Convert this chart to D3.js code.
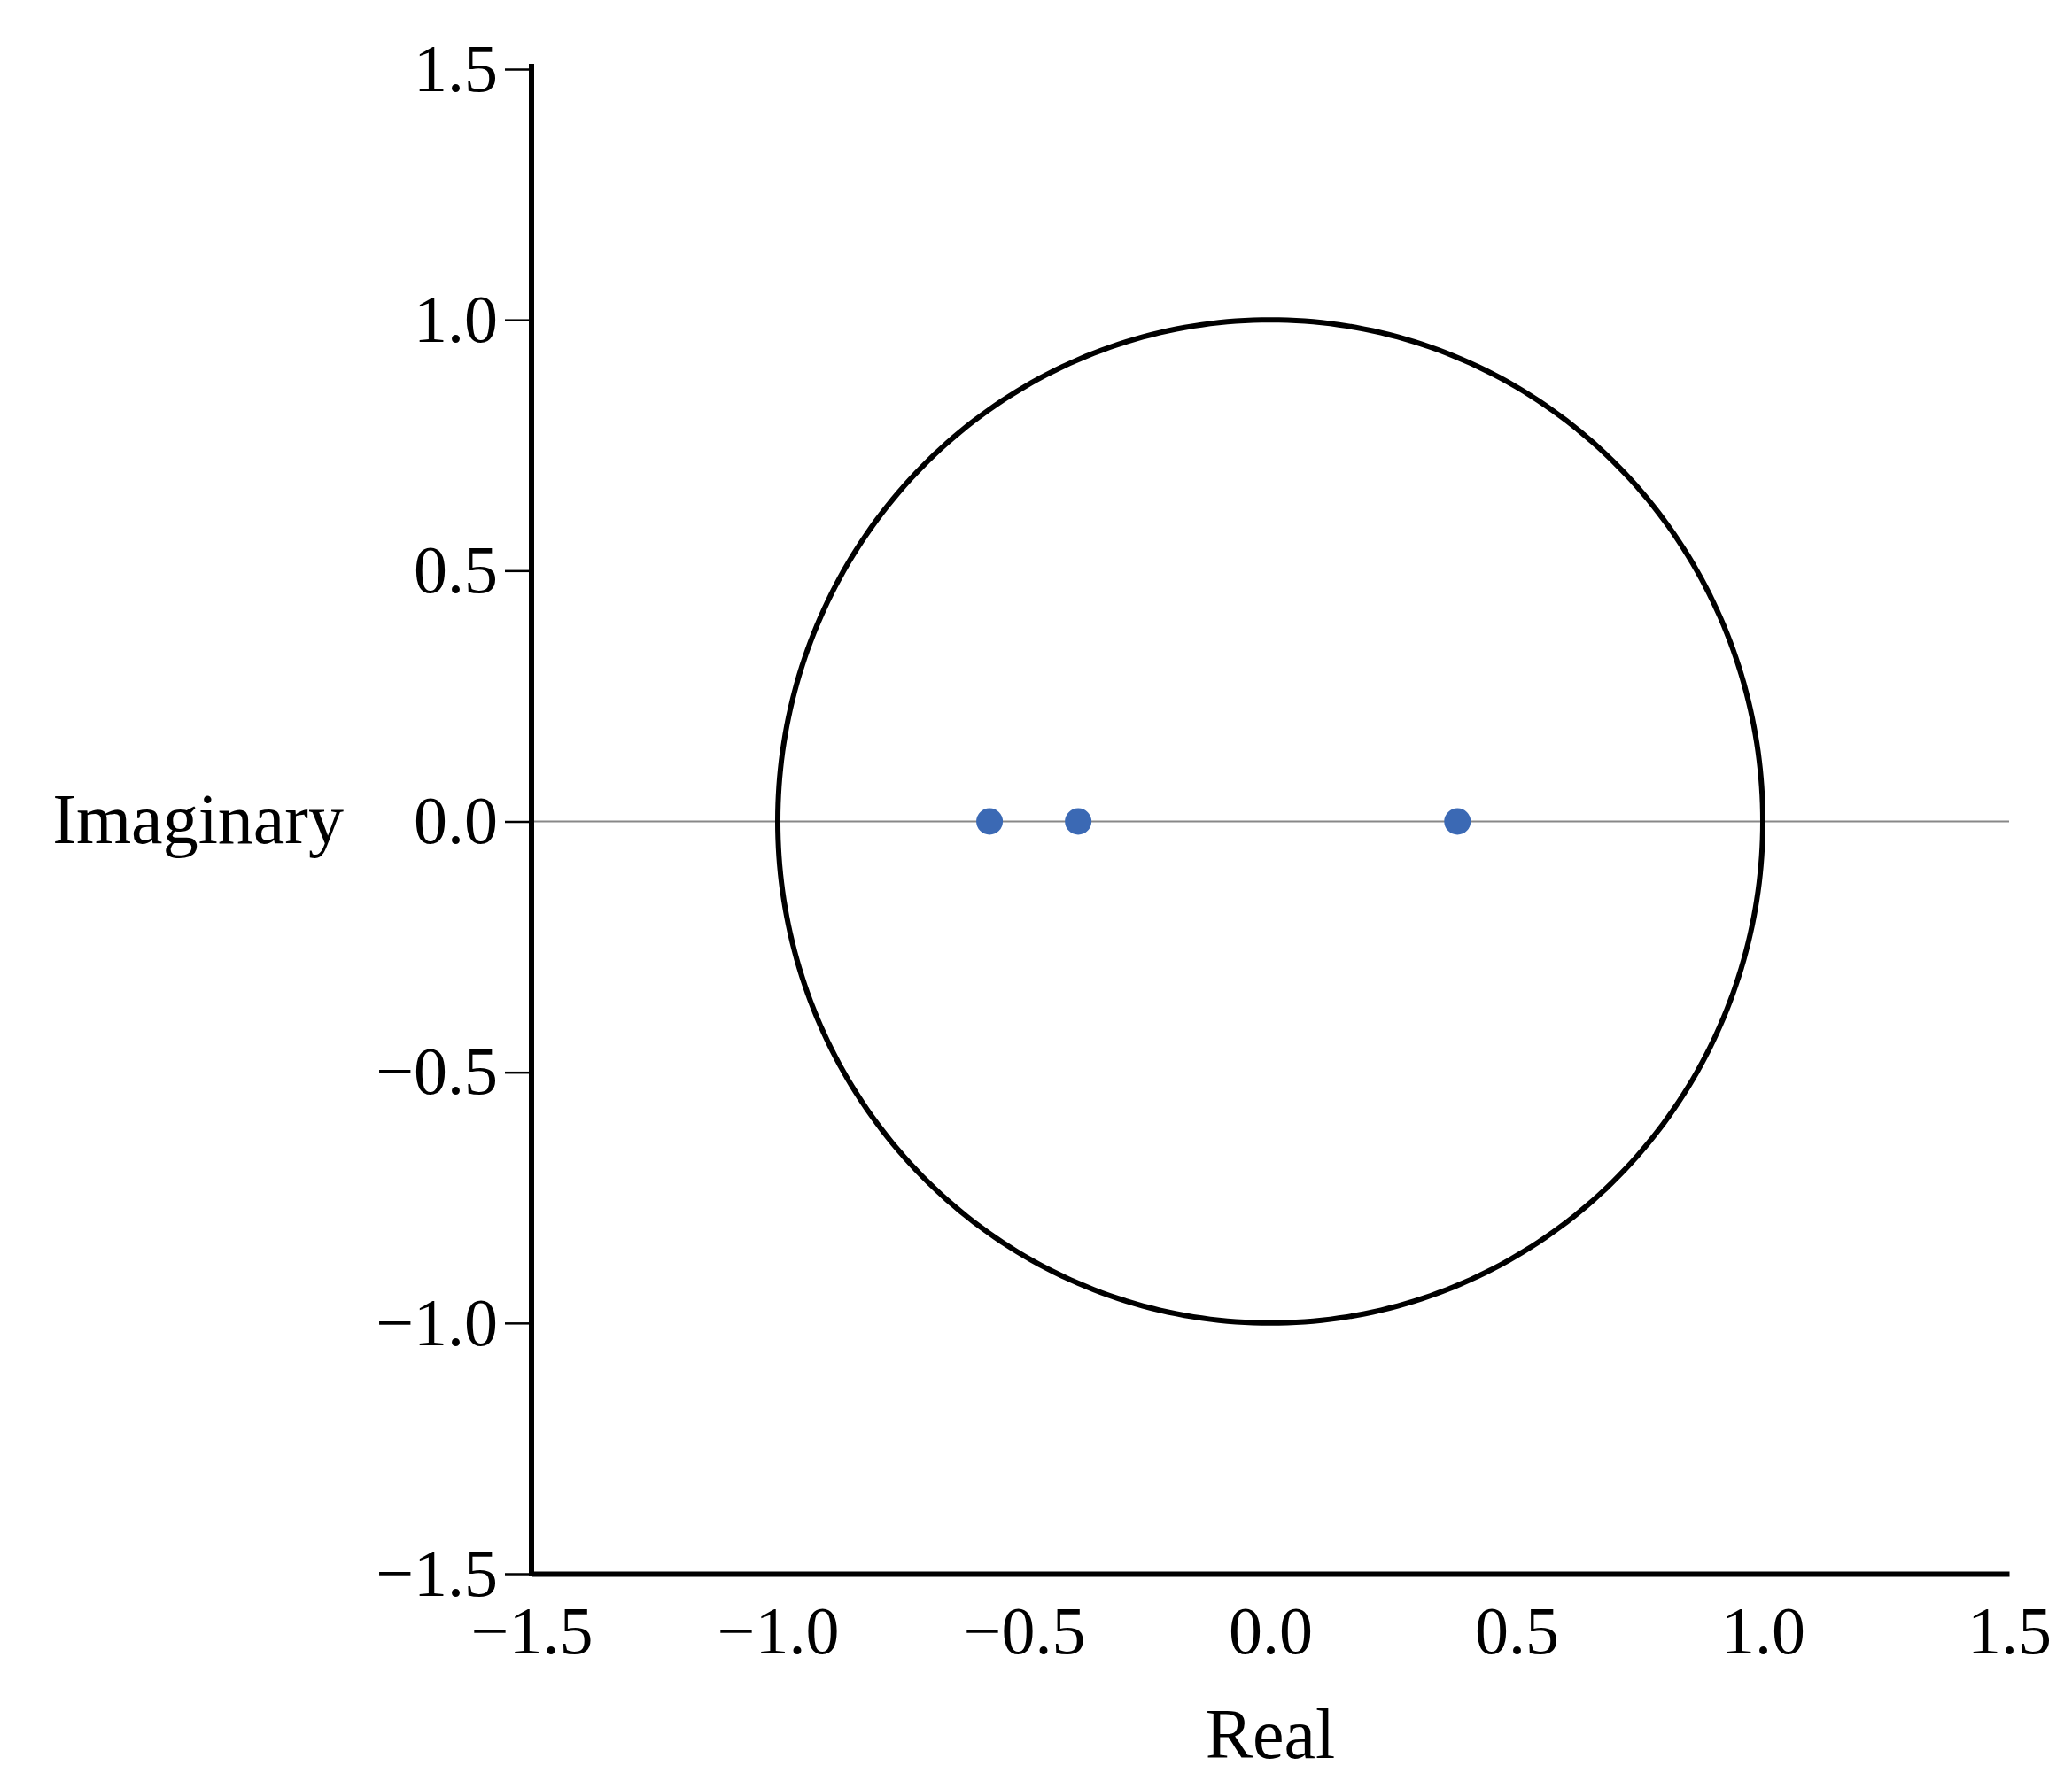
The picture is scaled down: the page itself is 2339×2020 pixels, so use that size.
<!DOCTYPE html>
<html>
<head>
<meta charset="utf-8">
<script src="https://cdn.jsdelivr.net/npm/d3@7"></script>
<style>
  body { margin: 0; background: #fff; }
  text { font-family: "Liberation Serif", "Times New Roman", serif; }
</style>
</head>
<body>
<svg id="chart" width="2339" height="2020"></svg>
<script>
const xTicks = [-1.5, -1.0, -0.5, 0.0, 0.5, 1.0, 1.5]
const yTicks = [-1.5, -1.0, -0.5, 0.0, 0.5, 1.0, 1.5]
const poleRe = [-0.57, -0.39, 0.38]
const poleIm = [0, 0, 0]

const svg = d3.select('#chart')
const x = d3.scaleLinear().domain([-1.5, 1.5]).range([600, 2268])
const y = d3.scaleLinear().domain([-1.5, 1.5]).range([1777, 78])

// zero line
svg.append('line')
  .attr('x1', x(-1.5)).attr('x2', x(1.5))
  .attr('y1', y(0)).attr('y2', y(0))
  .attr('stroke', '#888').attr('stroke-width', 2)

// unit circle
const circlePts = d3.range(0, 361).map(a => [Math.cos(a * Math.PI / 180), Math.sin(a * Math.PI / 180)])
svg.append('path')
  .attr('d', d3.line().x(d => x(d[0])).y(d => y(d[1]))(circlePts))
  .attr('fill', 'none').attr('stroke', '#000').attr('stroke-width', 6)

// y axis
const yAxis = svg.append('g').attr('transform', `translate(${x(-1.5)},0)`)
  .call(d3.axisLeft(y).tickValues(yTicks).tickFormat(d3.format('.1f')).tickSize(30).tickPadding(8))
yAxis.select('.domain').attr('stroke-width', 6).attr('d', `M0,${y(1.5) - 6}V${y(-1.5) + 3}`)
yAxis.selectAll('.tick line').attr('stroke-width', 2.5)
yAxis.selectAll('.tick text').attr('font-size', 76).attr('fill', '#000')
  .attr('font-family', '"Liberation Serif", serif')

// x axis
const xAxis = svg.append('g').attr('transform', `translate(0,${y(-1.5)})`)
  .call(d3.axisBottom(x).tickValues(xTicks).tickFormat(d3.format('.1f')).tickSize(0).tickPadding(36))
xAxis.select('.domain').attr('stroke-width', 6)
xAxis.selectAll('.tick text').attr('font-size', 76).attr('fill', '#000')
  .attr('font-family', '"Liberation Serif", serif')

// poles
svg.selectAll('.pole').data(poleRe).enter().append('circle')
  .attr('cx', d => x(d)).attr('cy', (d, i) => y(poleIm[i]))
  .attr('r', 15).attr('fill', '#3b69b4')

// labels
svg.append('text').attr('x', x(0)).attr('y', 1985)
  .attr('text-anchor', 'middle').attr('font-size', 80).text('Real')
svg.append('text').attr('x', 388).attr('y', y(0)).attr('dy', '0.3em')
  .attr('text-anchor', 'end').attr('font-size', 80).text('Imaginary')
</script>
</body>
</html>
